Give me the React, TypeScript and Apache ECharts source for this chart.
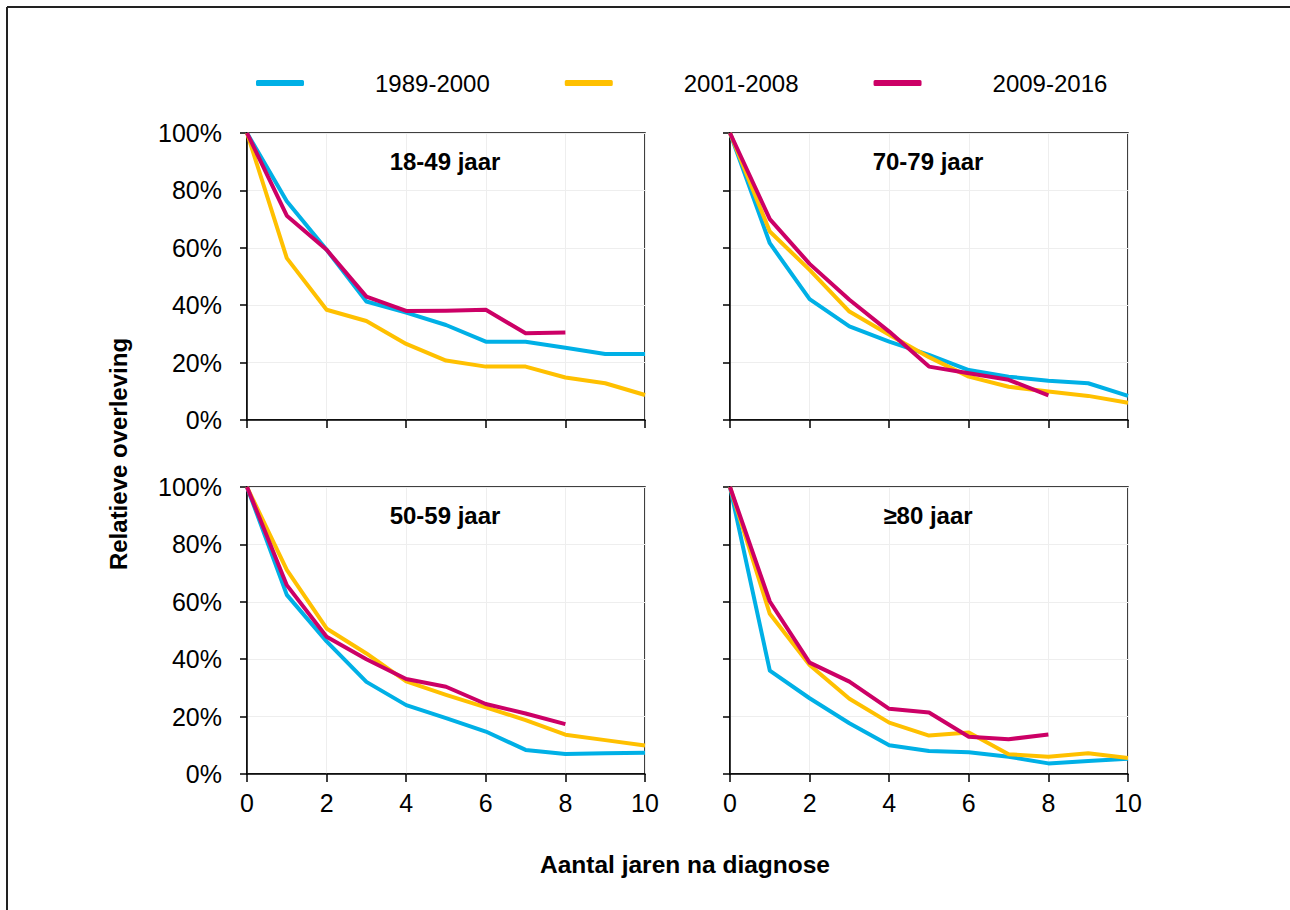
import React, { useEffect, useRef } from "react";
import * as echarts from "echarts";

const years = [0, 1, 2, 3, 4, 5, 6, 7, 8, 9, 10];
const periods = ["1989-2000", "2001-2008", "2009-2016"];
const colors = ["#00B0E6", "#FFC000", "#CC0066"];
const panelTitles = ["18-49 jaar", "70-79 jaar", "50-59 jaar", "≥80 jaar"];
const yTicks = [0, 20, 40, 60, 80, 100];
const xTicks = [0, 2, 4, 6, 8, 10];

// 18-49 jaar
const p1849_8900 = [100, 76.2, 59.3, 41.3, 37.4, 33.1, 27.3, 27.3, 25.2, 23.0, 23.0];
const p1849_0108 = [100, 56.4, 38.4, 34.5, 26.5, 20.7, 18.6, 18.6, 14.8, 12.8, 8.7];
const p1849_0916 = [100, 71.2, 59.3, 43.0, 38.0, 38.1, 38.4, 30.2, 30.5];
// 70-79 jaar
const p7079_8900 = [100, 61.6, 42.1, 32.6, 27.3, 22.7, 17.4, 15.1, 13.7, 12.8, 8.4];
const p7079_0108 = [100, 65.7, 52.3, 37.8, 29.7, 21.9, 15.1, 11.6, 9.9, 8.4, 6.0];
const p7079_0916 = [100, 70.0, 54.4, 41.9, 30.8, 18.6, 16.3, 14.0, 8.6];
// 50-59 jaar
const p5059_8900 = [100, 62.4, 46.2, 32.1, 24.0, 19.5, 14.8, 8.4, 7.0, 7.2, 7.4];
const p5059_0108 = [100, 71.1, 50.7, 42.0, 32.3, 27.6, 23.2, 18.8, 13.7, 11.8, 9.9];
const p5059_0916 = [100, 65.8, 47.8, 40.0, 33.1, 30.4, 24.4, 21.1, 17.4];
// >=80 jaar
const p80_8900 = [100, 36.0, 26.4, 17.7, 10.0, 8.0, 7.6, 6.0, 3.7, 4.5, 5.3];
const p80_0108 = [100, 55.8, 38.0, 26.2, 17.9, 13.4, 14.5, 6.9, 6.0, 7.2, 5.6];
const p80_0916 = [100, 60.1, 38.8, 32.2, 22.7, 21.4, 13.0, 12.1, 13.8];

const panelData = [
  [p1849_8900, p1849_0108, p1849_0916],
  [p7079_8900, p7079_0108, p7079_0916],
  [p5059_8900, p5059_0108, p5059_0916],
  [p80_8900, p80_0108, p80_0916],
];

const FONT = "'Liberation Sans', Arial, sans-serif";

export default function App() {
  const ref = useRef<HTMLDivElement>(null);

  useEffect(() => {
    if (!ref.current) return;
    const chart = echarts.init(ref.current, undefined, { renderer: "svg" });

    const gridPos = [
      { left: 247, top: 133 },
      { left: 730, top: 133 },
      { left: 247, top: 487 },
      { left: 730, top: 487 },
    ];
    const W = 398;
    const H = 287;

    const grids = gridPos.map((g) => ({
      left: g.left,
      top: g.top,
      width: W,
      height: H,
      show: true,
      borderColor: "#000",
      borderWidth: 1.5,
      backgroundColor: "transparent",
    }));

    const xAxes = gridPos.map((_, i) => ({
      type: "value",
      gridIndex: i,
      min: xTicks[0],
      max: xTicks[xTicks.length - 1],
      interval: 2,
      axisLine: { show: true, lineStyle: { color: "#000", width: 1.5 } },
      axisTick: { show: true, inside: false, length: 8, lineStyle: { color: "#000", width: 1.5 } },
      splitLine: { show: true, lineStyle: { color: "#eeeeee", width: 1 } },
      axisLabel: {
        show: i >= 2,
        fontSize: 25,
        color: "#000",
        fontFamily: FONT,
        margin: 16,
      },
    }));

    const yAxes = gridPos.map((_, i) => ({
      type: "value",
      gridIndex: i,
      min: yTicks[0],
      max: yTicks[yTicks.length - 1],
      interval: 20,
      axisLine: { show: true, lineStyle: { color: "#000", width: 1.5 } },
      axisTick: { show: true, inside: false, length: 7, lineStyle: { color: "#000", width: 1.5 } },
      splitLine: { show: true, lineStyle: { color: "#eeeeee", width: 1 } },
      axisLabel: {
        show: i % 2 === 0,
        formatter: "{value}%",
        fontSize: 25,
        color: "#000",
        fontFamily: FONT,
        margin: 25,
      },
    }));

    const series: any[] = [];
    panelData.forEach((arrs, pi) => {
      arrs.forEach((vals, si) => {
        series.push({
          type: "line",
          name: periods[si],
          xAxisIndex: pi,
          yAxisIndex: pi,
          data: vals.map((v, k) => [years[k], v]),
          showSymbol: false,
          symbol: "none",
          lineStyle: { color: colors[si], width: 4, join: "round" },
          itemStyle: { color: colors[si] },
          z: 2 + si,
        });
      });
    });

    const titles = panelTitles.map((t, i) => ({
      text: t,
      left: gridPos[i].left + W / 2 - 1,
      top: gridPos[i].top + 16,
      padding: 0,
      textAlign: "center",
      textStyle: { fontSize: 24, fontWeight: "bold", color: "#000", fontFamily: FONT },
    }));

    chart.setOption({
      animation: false,
      backgroundColor: "#fff",
      title: titles,
      legend: {
        data: periods,
        left: 251,
        top: 66,
        icon: "roundRect",
        itemWidth: 48,
        itemHeight: 6,
        itemGap: 75,
        textStyle: {
          fontSize: 24,
          color: "#000",
          fontFamily: FONT,
          padding: [0, 0, 0, 66],
        },
      },
      grid: grids,
      xAxis: xAxes,
      yAxis: yAxes,
      series,
      graphic: [
        {
          type: "line",
          shape: { x1: 7, y1: 7, x2: 1290, y2: 7 },
          style: { stroke: "#222", lineWidth: 2 },
        },
        {
          type: "line",
          shape: { x1: 7, y1: 7, x2: 7, y2: 910 },
          style: { stroke: "#222", lineWidth: 2 },
        },
        {
          type: "text",
          x: 118,
          y: 454,
          rotation: Math.PI / 2,
          style: {
            text: "Relatieve overleving",
            fontSize: 24,
            fontWeight: "bold",
            fill: "#000",
            fontFamily: FONT,
            align: "center",
            verticalAlign: "middle",
          },
        },
        {
          type: "text",
          x: 685,
          y: 864,
          style: {
            text: "Aantal jaren na diagnose",
            fontSize: 24.5,
            fontWeight: "bold",
            fill: "#000",
            fontFamily: FONT,
            align: "center",
            verticalAlign: "middle",
          },
        },
      ],
    });

    return () => chart.dispose();
  }, []);

  return (
    <div
      ref={ref}
      style={{ position: "absolute", left: 0, top: 0, width: 1290, height: 910, background: "#fff" }}
    />
  );
}
